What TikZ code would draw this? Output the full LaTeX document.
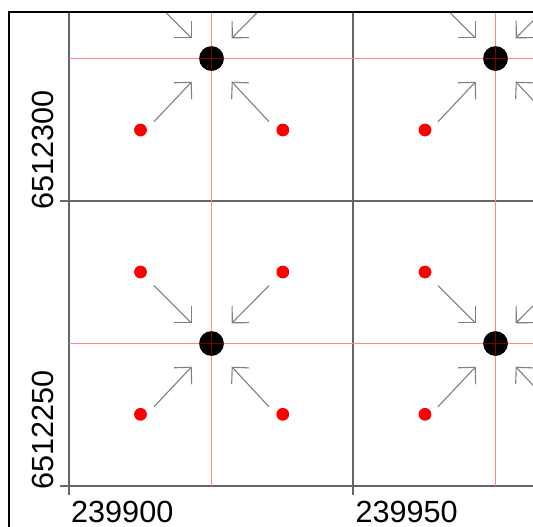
\documentclass[tikz,border=0pt]{standalone}
\usepackage{fontspec}
\setmainfont{Liberation Sans}
\usetikzlibrary{arrows.meta,calc}
\definecolor{lightred}{RGB}{255,135,135}
\definecolor{darkred}{RGB}{128,0,0}
\begin{document}
\begin{tikzpicture}[x=0.5pt,y=-0.5pt,
  axisline/.style={black!60,line width=0.6pt},
  gridred/.style={lightred,line width=0.9pt},
  crossred/.style={darkred,line width=0.8pt},
  flow/.style={black!50,line width=0.55pt,-{Straight Barb[length=6pt,width=12pt]}},
  cell/.style={circle,fill=black,draw=none,inner sep=0pt,minimum size=12.4pt},
  pt/.style={circle,fill=red,draw=none,inner sep=0pt,minimum size=6.4pt},
  lab/.style={inner sep=0pt,font=\fontsize{15.3pt}{18pt}\selectfont}]
\useasboundingbox (0,0) rectangle (533,526);
\clip (0,0) rectangle (533,526);
\fill[white] (0,0) rectangle (533,526);
\begin{scope}
  \clip (8.7,11.7) rectangle (533,526);
  % axis / grid lines
  \coordinate (vx1t) at (69,11.7);  \coordinate (vx1b) at (69,495);
  \coordinate (vx2t) at (353,11.7); \coordinate (vx2b) at (353,495);
  \coordinate (hy1l) at (60,201);   \coordinate (hy1r) at (533,201);
  \coordinate (hy2l) at (60,486);   \coordinate (hy2r) at (533,486);
  \draw[axisline] (vx1t) -- (vx1b);
  \draw[axisline] (vx2t) -- (vx2b);
  \draw[axisline] (hy1l) -- (hy1r);
  \draw[axisline] (hy2l) -- (hy2r);
  % aggregated cells
  \foreach \n/\x/\y in {b1/211.5/58.5, b2/495.5/58.5, b3/211.5/343.5, b4/495.5/343.5}{
    \coordinate (\n) at (\x,\y);
  }
  % arrows
  \foreach \n in {b1,b2,b3,b4}{
    \draw[flow] ($(\n)+(-57.5,63.2)$) -- ($(\n)+(-19.8,23.2)$);
    \draw[flow] ($(\n)+(57.5,63.2)$) -- ($(\n)+(20.2,23.2)$);
    \draw[flow] ($(\n)+(-57.5,-57.9)$) -- ($(\n)+(-19.8,-20.2)$);
    \draw[flow] ($(\n)+(57.5,-57.9)$) -- ($(\n)+(20.2,-20.2)$);
  }
  % red points
  \foreach \n/\x/\y in {r1/140.5/130, r2/282.8/130, r3/425/130,
                        r4/140.5/272, r5/282.8/272, r6/425/272,
                        r7/140.5/414.3, r8/282.8/414.3, r9/425/414.3}{
    \node[pt] (\n) at (\x,\y) {};
  }
  % red cell-centre lines
  \coordinate (rv1t) at (211.5,11.7);  \coordinate (rv1b) at (211.5,486);
  \coordinate (rv2t) at (495.5,11.7);  \coordinate (rv2b) at (495.5,486);
  \coordinate (rh1l) at (69,58.5);     \coordinate (rh1r) at (533,58.5);
  \coordinate (rh2l) at (69,343.5);    \coordinate (rh2r) at (533,343.5);
  \draw[gridred] (rv1t) -- (rv1b);
  \draw[gridred] (rv2t) -- (rv2b);
  \draw[gridred] (rh1l) -- (rh1r);
  \draw[gridred] (rh2l) -- (rh2r);
  % black cells with the red lines showing dark through them
  \foreach \n in {b1,b2,b3,b4}{
    \node[cell] (\n c) at (\n) {};
    \begin{scope}
      \clip (\n) circle[radius=6.2pt];
      \draw[crossred] ($(\n)+(-15,0)$) -- ($(\n)+(15,0)$);
      \draw[crossred] ($(\n)+(0,-15)$) -- ($(\n)+(0,15)$);
    \end{scope}
  }
\end{scope}
% frame
\draw[line width=1.1pt] (545,11.7) -- (8.7,11.7) -- (8.7,545);
% labels
\node[lab,anchor=base west] (lx1) at (70.8,522.6) {239900};
\node[lab,anchor=base west] (lx2) at (355.1,522.4) {239950};
\node[lab,anchor=base west,rotate=90] (ly1) at (53.3,209.6) {6512300};
\node[lab,anchor=base west,rotate=90] (ly2) at (53.3,489.6) {6512250};
\end{tikzpicture}
\end{document}
